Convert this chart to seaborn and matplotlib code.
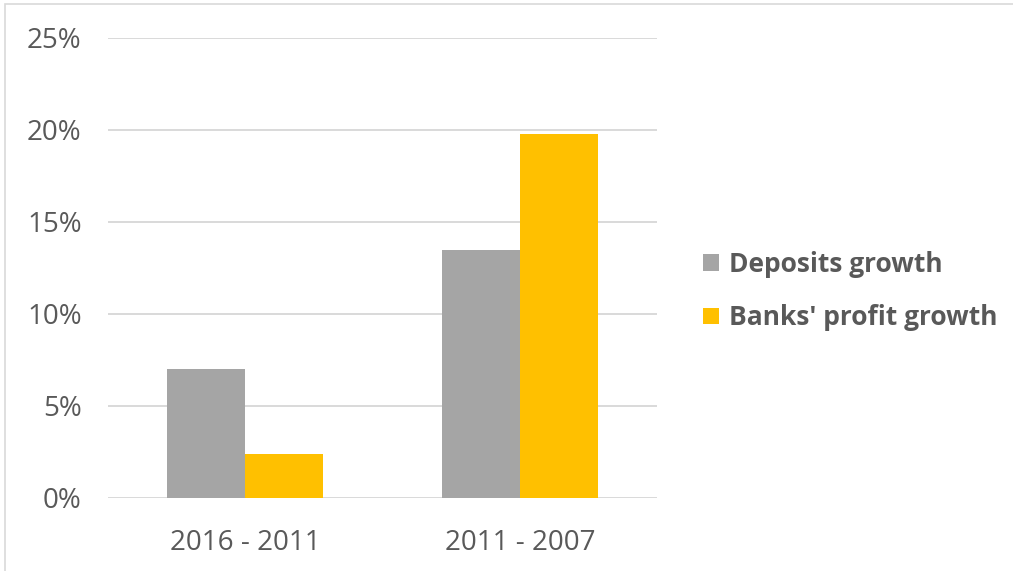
import pandas as pd
import matplotlib.pyplot as plt
import seaborn as sns
from matplotlib.patches import Rectangle
from matplotlib.ticker import FuncFormatter

# Données
periodes = ['2016 - 2011', '2011 - 2007']
series = ['Deposits growth', "Banks' profit growth"]
depots = [7.0, 13.5]
profits = [2.4, 19.8]
yticks = [0, 5, 10, 15, 20, 25]

df = pd.DataFrame({
    'periode': periodes * 2,
    'serie': [series[0]] * 2 + [series[1]] * 2,
    'valeur': depots + profits,
})

sns.set_theme(style='white')
plt.rcParams['font.family'] = ['Open Sans', 'DejaVu Sans']

fig = plt.figure(figsize=(10.13, 5.71), dpi=100)
ax = fig.add_axes([0.1066, 0.1279, 0.5420, 0.8056])

sns.barplot(data=df, x='periode', y='valeur', hue='serie',
            palette=['#a5a5a5', '#ffc000'], width=0.57,
            saturation=1, ax=ax, zorder=3, linewidth=0)

ax.set_ylim(0, 25)
ax.set_xlim(-0.5, 1.5)
ax.set_yticks(yticks)
ax.yaxis.set_major_formatter(FuncFormatter(lambda v, p: f'{v:.0f}%'))
ax.grid(axis='y', color='#d9d9d9', linewidth=1.4, zorder=0)
ax.set_xlabel('')
ax.set_ylabel('')
for s in ax.spines.values():
    s.set_visible(False)
ax.tick_params(axis='both', length=0, labelsize=20, colors='#595959')
ax.tick_params(axis='x', pad=22)
ax.tick_params(axis='y', pad=19)

leg = ax.legend(loc='center left', bbox_to_anchor=(0.671, 0.49),
                bbox_transform=fig.transFigure, frameon=False,
                prop={'weight': 'bold', 'size': 19},
                handlelength=0.6, handleheight=0.6, handletextpad=0.35,
                labelspacing=1.0)
for t in leg.get_texts():
    t.set_color('#595959')

# Cadre du graphique (coupé en haut et à gauche)
fig.patches.append(Rectangle((5 / 1013, -0.1), 1.2, 1 - 4 / 571 + 0.1,
                             transform=fig.transFigure, fill=False,
                             edgecolor='#d9d9d9', linewidth=1.2))

fig.savefig('out.png', dpi=100)
